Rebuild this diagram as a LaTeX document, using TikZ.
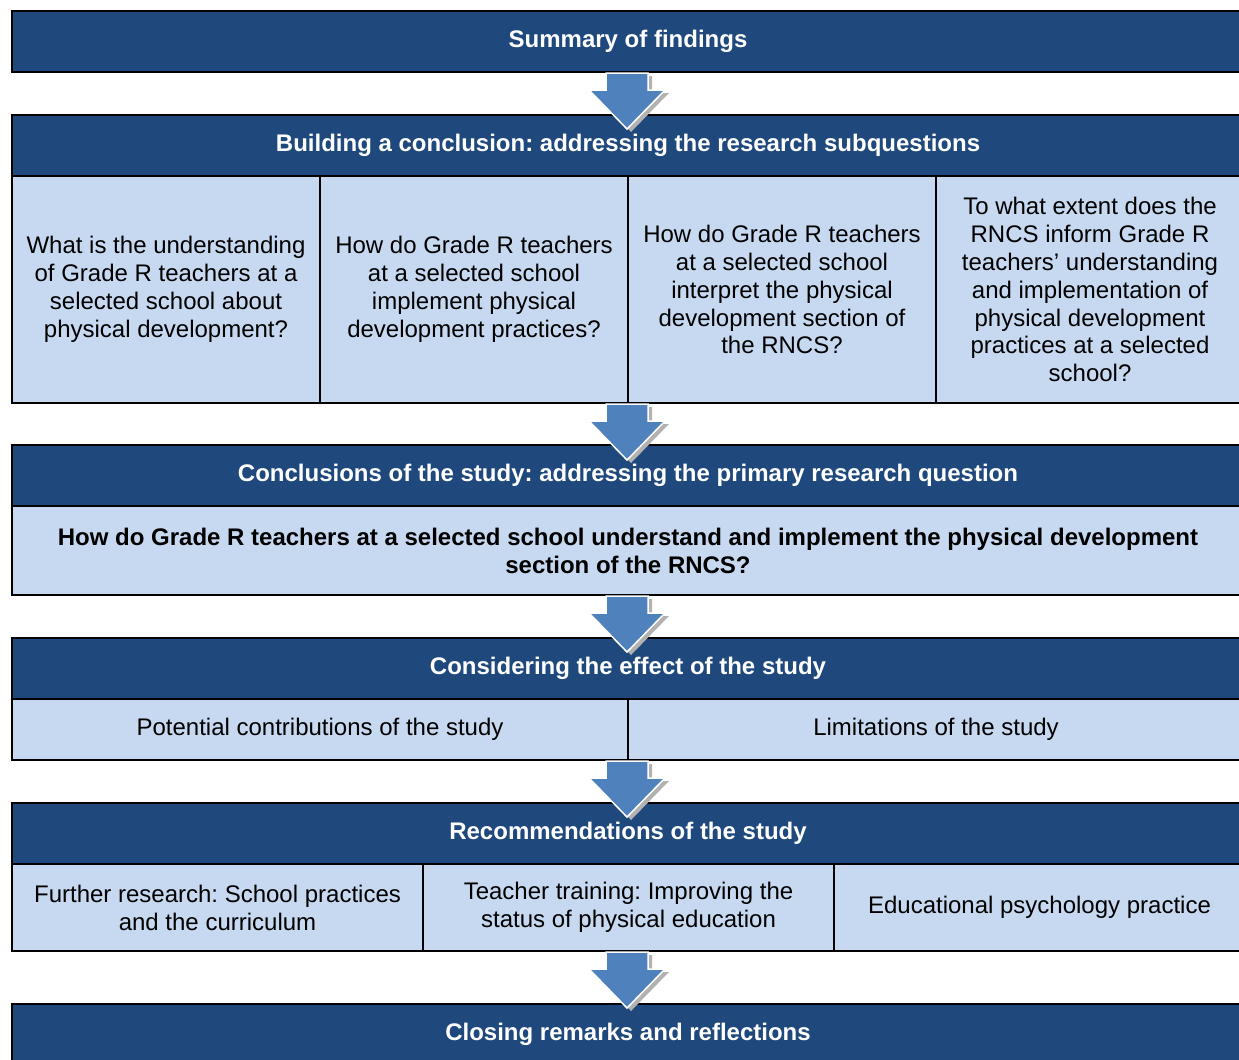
\documentclass[tikz,border=0pt]{standalone}
\usepackage{fontspec}
\setmainfont{Liberation Sans}
\frenchspacing
\definecolor{headblue}{HTML}{1F497D}
\definecolor{cellblue}{HTML}{C6D9F1}
\definecolor{arrowblue}{HTML}{4F81BD}
\tikzset{
  box/.style={draw=black, line width=0.04cm, inner sep=0pt, anchor=north west,
    align=center, font=\fontsize{13.66}{15.9}\selectfont},
  headbox/.style={box, fill=headblue, text=white, font=\fontsize{13.66}{15.9}\selectfont\bfseries},
  cellbox/.style={box, fill=cellblue, text=black},
  downarrow/.pic={
    \fill[black!30, shift={(4,3)}] (-21,0) -- (21,0) -- (21,17) -- (38,17) -- (0,56) -- (-38,17) -- (-21,17) -- cycle;
    \filldraw[fill=arrowblue, draw=white, line width=0.03cm] (-21,0) -- (21,0) -- (21,17) -- (38,17) -- (0,56) -- (-38,17) -- (-21,17) -- cycle;
  }
}
\begin{document}
\begin{tikzpicture}[x=0.02cm, y=-0.02cm]
  \useasboundingbox (0,0) rectangle (1239,1059);
  \clip (0,0) rectangle (1239,1059);

  % top
  \node[headbox, minimum width=1232*0.02cm, minimum height=61*0.02cm] (summary) at (11,10) {Summary of findings};

  % sub questions
  \node[headbox, minimum width=1232*0.02cm, minimum height=61*0.02cm] (building) at (11,114)
    {Building a conclusion: addressing the research subquestions};
  \foreach \n/\x/\t in {1/11/{What is the understanding\\of Grade R teachers at a\\selected school about\\physical development?},
      2/319/{How do Grade R teachers\\at a selected school\\implement physical\\development practices?},
      3/627/{How do Grade R teachers\\at a selected school\\interpret the physical\\development section of\\the RNCS?},
      4/935/{To what extent does the\\RNCS inform Grade R\\teachers’ understanding\\and implementation of\\physical development\\practices at a selected\\school?}}{
    \node[cellbox, minimum width=308*0.02cm, minimum height=227*0.02cm] (q\n) at (\x,175) {\t};
  }

  % primary question
  \node[headbox, minimum width=1232*0.02cm, minimum height=61*0.02cm] (conclusions) at (11,444)
    {Conclusions of the study: addressing the primary research question};
  \node[cellbox, minimum width=1232*0.02cm, minimum height=89*0.02cm, font=\fontsize{13.66}{15.9}\selectfont\bfseries] (primary) at (11,505)
    {How do Grade R teachers at a selected school understand and implement the physical development\\section of the RNCS?};

  % effect
  \node[headbox, minimum width=1232*0.02cm, minimum height=61*0.02cm] (effect) at (11,637)
    {Considering the effect of the study};
  \node[cellbox, minimum width=616*0.02cm, minimum height=61*0.02cm] (contrib) at (11,698)
    {Potential contributions of the study};
  \node[cellbox, minimum width=616*0.02cm, minimum height=61*0.02cm] (limits) at (627,698)
    {Limitations of the study};

  % recommendations
  \node[headbox, minimum width=1232*0.02cm, minimum height=61*0.02cm] (recom) at (11,802)
    {Recommendations of the study};
  \foreach \n/\x/\t in {1/11/{Further research: School practices\\and the curriculum},
      2/422/{Teacher training: Improving the\\status of physical education},
      3/833/{Educational psychology practice}}{
    \node[cellbox, minimum width=411*0.02cm, minimum height=87*0.02cm] (rec\n) at (\x,863) {\t};
  }

  % closing
  \node[headbox, minimum width=1232*0.02cm, minimum height=61*0.02cm] (closing) at (11,1003)
    {Closing remarks and reflections};

  % arrows
  \pic at ([xshift=-1*0.02cm]summary.south) {downarrow};
  \pic at ([xshift=-1*0.02cm]summary.south |- q1.south) {downarrow};
  \pic at ([xshift=-1*0.02cm]summary.south |- primary.south) {downarrow};
  \pic at ([xshift=-1*0.02cm]summary.south |- contrib.south) {downarrow};
  \pic at ([xshift=-1*0.02cm]summary.south |- rec1.south) {downarrow};
\end{tikzpicture}
\end{document}
